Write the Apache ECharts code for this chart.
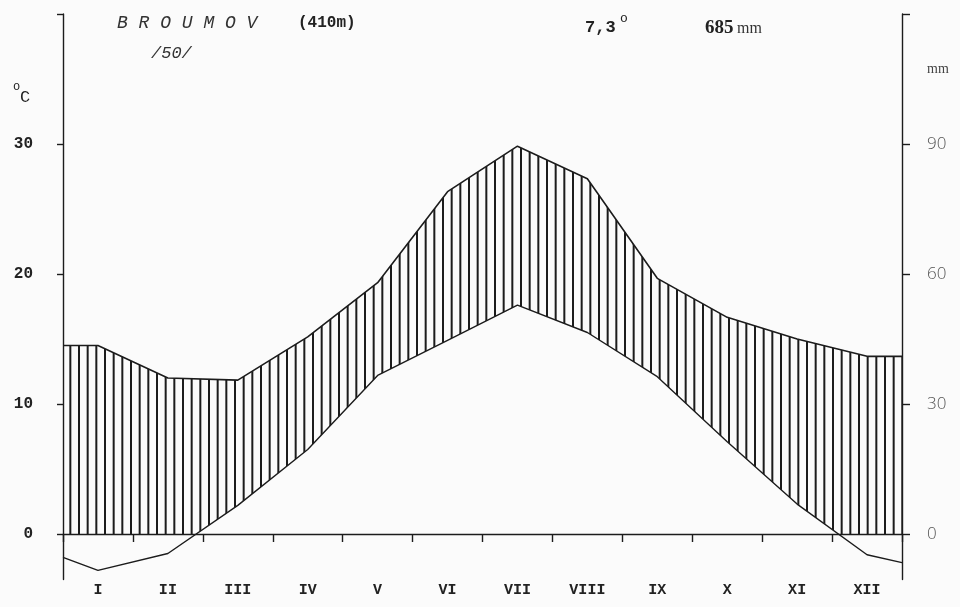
<!DOCTYPE html>
<html><head><meta charset="utf-8">
<script src="https://cdn.jsdelivr.net/npm/echarts@6/dist/echarts.min.js"></script>
<style>html,body{margin:0;padding:0;background:#fbfbfb}#c{width:960px;height:607px}</style>
</head><body><div id="c"></div>
<script>
// ---- data ----
const months = ['I','II','III','IV','V','VI','VII','VIII','IX','X','XI','XII'];
const temperature = [-2.8, -1.5, 2.2, 6.5, 12.2, 14.9, 17.6, 15.5, 12.1, 7.1, 2.3, -1.6];   // °C
const precipitation = [43.5, 36, 35.5, 45.5, 58, 79, 89.5, 82, 59, 50, 45, 41];            // mm
const temperatureEdges = [-1.8, -2.2];     // values drawn at the left / right frame
const precipitationEdges = [43.5, 41];
const tempTickLabels = [0, 10, 20, 30];
const precipTickLabels = [0, 30, 60, 90];

// ---- build series points (month centres at i+0.5, frame edges at 0 and 12) ----
function pts(vals, edges) {
  const out = [[0, edges[0]]];
  vals.forEach((v, i) => out.push([i + 0.5, v]));
  out.push([12, edges[1]]);
  return out;
}

const BG = '#fbfbfb', INK = '#1c1c1c';
const pc = document.createElement('canvas'); pc.width = 26; pc.height = 4;
const g = pc.getContext('2d'); g.fillStyle = INK;
[0, 26 / 3, 52 / 3].forEach(x => g.fillRect(x, 0, 2, 4));

const chart = echarts.init(document.getElementById('c'));
const mono = '"Liberation Mono", "DejaVu Sans Mono", monospace';
const serif = '"Liberation Serif", "DejaVu Serif", serif';
function txt(x, y, text, opts) {
  return { type: 'text', x: x, y: y, z: 20, style: Object.assign({ text: text, fill: '#222', fontFamily: mono, fontSize: 15, textVerticalAlign: 'middle' }, opts || {}) };
}
chart.setOption({
  backgroundColor: BG,
  animation: false,
  grid: { left: 63, right: 58, top: 14, bottom: 27.5 },
  xAxis: [{
    type: 'value', min: 0, max: 12, interval: 1, z: 10,
    axisLine: { onZero: true, lineStyle: { color: INK, width: 1.4 } },
    axisTick: { show: true, length: 8, lineStyle: { color: INK, width: 1.4 } },
    axisLabel: { show: false }, splitLine: { show: false }
  }, {
    type: 'category', data: months, position: 'bottom', boundaryGap: true,
    axisLine: { show: false }, axisTick: { show: false }, splitLine: { show: false },
    axisLabel: { margin: 3, color: '#222', fontFamily: mono, fontWeight: 'bold', fontSize: 15, interval: 0 }
  }],
  yAxis: [{
    type: 'value', min: -3.5, max: 40, z: 10, position: 'left',
    axisLine: { show: true, onZero: false, lineStyle: { color: INK, width: 1.4 } },
    axisTick: { show: true, length: 6, customValues: tempTickLabels.concat([40]), lineStyle: { color: INK, width: 1.4 } },
    axisLabel: { customValues: tempTickLabels, margin: 30, color: '#222', fontFamily: mono, fontWeight: 'bold', fontSize: 16 },
    splitLine: { show: false }
  }, {
    type: 'value', min: -10.5, max: 120, z: 10, position: 'right',
    axisLine: { show: true, onZero: false, lineStyle: { color: INK, width: 1.4 } },
    axisTick: { show: true, length: 8, customValues: precipTickLabels.concat([120]), lineStyle: { color: INK, width: 1.4 } },
    axisLabel: { customValues: precipTickLabels, margin: 25, color: '#555', fontFamily: '"Open Sans", sans-serif', fontWeight: 300, fontSize: 17 },
    splitLine: { show: false }
  }],
  series: [{
    name: 'precipitation', type: 'line', xAxisIndex: 0, yAxisIndex: 1, z: 2,
    data: pts(precipitation, precipitationEdges), symbol: 'none',
    lineStyle: { color: INK, width: 1.6 },
    areaStyle: { color: { image: pc, repeat: 'repeat' }, opacity: 1 }
  }, {
    name: 'temperature', type: 'line', xAxisIndex: 0, yAxisIndex: 0, z: 3,
    data: pts(temperature, temperatureEdges), symbol: 'none',
    lineStyle: { color: INK, width: 1.4 },
    areaStyle: { color: BG, opacity: 1 }
  }],
  graphic: [
    txt(117, 23, 'B R O U M O V', { fontSize: 18, fontStyle: 'italic', fill: '#333' }),
    txt(298, 23, '(410m)', { fontSize: 16, fontWeight: 'bold' }),
    txt(151, 53, '/50/', { fontSize: 17, fontStyle: 'italic', fill: '#333' }),
    txt(585, 28, '7,3', { fontSize: 17, fontWeight: 'bold' }),
    txt(620, 19, 'o', { fontSize: 13 }),
    txt(705, 28, '685', { fontSize: 19, fontWeight: 'bold', fontFamily: serif }),
    txt(737, 29, 'mm', { fontSize: 16, fontFamily: serif, fill: '#333' }),
    txt(13, 87, 'o', { fontSize: 12 }),
    txt(20, 97, 'C', { fontSize: 17 }),
    txt(927, 69, 'mm', { fontSize: 14, fontFamily: serif, fill: '#444' })
  ]
});
</script></body></html>
